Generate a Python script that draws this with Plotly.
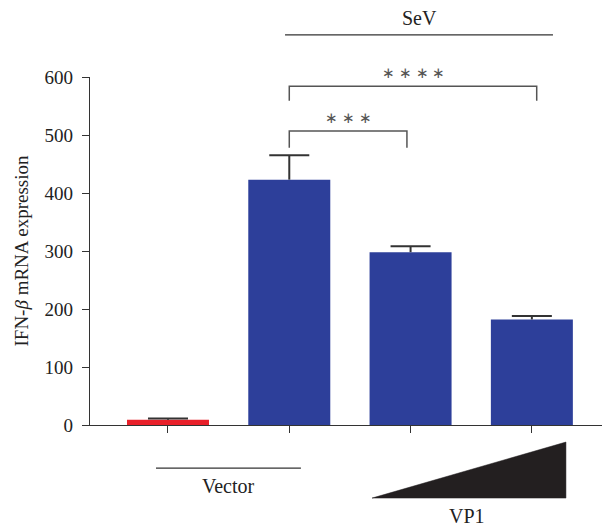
import plotly.graph_objects as go

categories = ["Vector", "SeV", "SeV+VP1 low", "SeV+VP1 high"]
values = [9, 423, 298, 182]
errors = [2, 42, 10, 6]
bar_colors = ["#E8202A", "#2D3F9A", "#2D3F9A", "#2D3F9A"]
y_ticks = [0, 100, 200, 300, 400, 500, 600]
y_ticklabels = ["0", "100", "200", "300", "400", "500", "600"]
sig_pairs = [(1, 1.97, 478, 507, "∗ ∗ ∗"), (1, 3.04, 559, 584, "∗ ∗ ∗ ∗")]

FONT = "Liberation Serif"
AX = "#333333"
TXT = "#222222"

x_pos = list(range(len(categories)))

fig = go.Figure()
fig.add_trace(go.Bar(
    x=x_pos, y=values, width=0.676,
    marker=dict(color=bar_colors, line=dict(width=0)),
    showlegend=False, hoverinfo="skip",
))

# upward-only error bars (stem + top cap)
cap = 0.165
ex, ey = [], []
for xi, v, e in zip(x_pos, values, errors):
    ex += [xi, xi, None, xi - cap, xi + cap, None]
    ey += [v, v + e, None, v + e, v + e, None]
fig.add_trace(go.Scatter(x=ex, y=ey, mode="lines",
                         line=dict(color="#333333", width=2),
                         showlegend=False, hoverinfo="skip", cliponaxis=False))

shapes = []
annotations = []
for x0, x1, ylo, yhi, txt in sig_pairs:
    shapes.append(dict(type="path", xref="x", yref="y",
                       path=f"M {x0} {ylo} L {x0} {yhi} L {x1} {yhi} L {x1} {ylo}",
                       line=dict(color="#555555", width=1.5)))
    annotations.append(dict(x=(x0 + x1) / 2, y=yhi, xref="x", yref="y",
                            text=txt, showarrow=False, yanchor="bottom", yshift=3,
                            font=dict(family=FONT, size=15, color="#555555")))

# SeV line and label
shapes.append(dict(type="line", xref="x", yref="paper", x0=0.965, x1=3.174,
                   y0=1.121, y1=1.121, line=dict(color="#333333", width=1.3)))
annotations.append(dict(x=2.07, y=1.170, xref="x", yref="paper", text="SeV",
                        showarrow=False, yanchor="middle",
                        font=dict(family=FONT, size=20, color=TXT)))
# Vector line and label
shapes.append(dict(type="line", xref="x", yref="paper", x0=-0.099, x1=1.096,
                   y0=-0.124, y1=-0.124, line=dict(color="#333333", width=1.3)))
annotations.append(dict(x=0.495, y=-0.175, xref="x", yref="paper", text="Vector",
                        showarrow=False, yanchor="middle",
                        font=dict(family=FONT, size=20, color=TXT)))
# VP1 triangle and label
shapes.append(dict(type="path", xref="x", yref="paper",
                   path="M 1.682 -0.210 L 3.281 -0.210 L 3.281 -0.049 Z",
                   fillcolor="#231F20", line=dict(color="#231F20", width=0.5)))
annotations.append(dict(x=2.465, y=-0.261, xref="x", yref="paper", text="VP1",
                        showarrow=False, yanchor="middle",
                        font=dict(family=FONT, size=20, color=TXT)))

fig.update_layout(
    width=602, height=522,
    margin=dict(l=82, r=5, t=69, b=105),
    paper_bgcolor="white", plot_bgcolor="white",
    shapes=shapes, annotations=annotations,
    font=dict(family=FONT, size=19, color=TXT),
    xaxis=dict(range=[-0.643, 3.603], tickvals=x_pos, ticktext=[""] * 4,
               ticks="outside", ticklen=7, tickcolor=AX, tickwidth=1.3,
               showline=True, linecolor=AX, linewidth=1.3,
               showgrid=False, zeroline=False),
    yaxis=dict(range=[0, 600], tickvals=y_ticks, ticktext=y_ticklabels,
               ticks="outside", ticklen=7, tickcolor=AX, tickwidth=1.3,
               ticklabelstandoff=5,
               showline=True, linecolor=AX, linewidth=1.3,
               showgrid=False, zeroline=False,
               tickfont=dict(family="Times New Roman, Liberation Serif, serif",
                             size=19, color=TXT),
               title=dict(text="IFN-<i>β</i> mRNA expression", standoff=10,
                          font=dict(family=FONT, size=19, color=TXT))),
)

fig.write_html("out.html")
